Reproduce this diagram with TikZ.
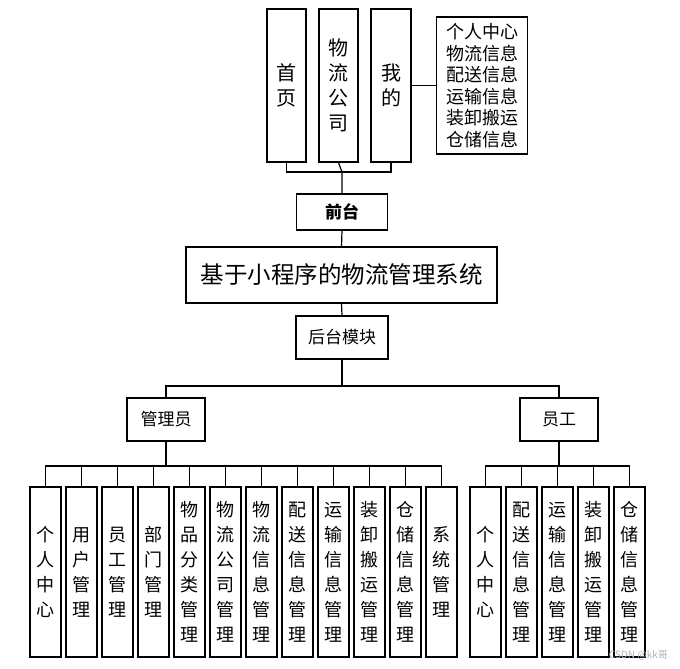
\documentclass[tikz,border=0pt]{standalone}
\usepackage{fontspec}
\newfontfamily\cjk{Noto Sans CJK SC}
\begin{document}
\begin{tikzpicture}[x=1pt,y=-1pt,
  box/.style={draw=black,line width=1.2pt,inner sep=0pt,align=center,font=\cjk},
  topbox/.style={box,minimum width=39pt,minimum height=153pt,font=\cjk\fontsize{20}{25}\selectfont},
  leaf/.style={box,minimum width=31pt,minimum height=170pt,font=\cjk\fontsize{18}{25}\selectfont},
  mid/.style={box,minimum height=43pt,font=\cjk\fontsize{17}{20}\selectfont},
  wire/.style={line width=1.2pt,black}]
\useasboundingbox (0,0) rectangle (680,669);
% top
\node[topbox] (home) at (286.5,85.5) {首\\页};
\node[topbox] (wl) at (338.5,85.5) {物\\流\\公\\司};
\node[topbox,minimum width=40pt] (mine) at (391,85.5) {我\\的};
\node[box,minimum width=91pt,minimum height=137pt,font=\cjk\fontsize{18}{21.5}\selectfont] (list) at (482,85.5) {个人中心\\物流信息\\配送信息\\运输信息\\装卸搬运\\仓储信息};
\node[box,minimum width=91pt,minimum height=36pt,font=\cjk\bfseries\fontsize{17}{20}\selectfont] (front) at (342,212) {前台};
\node[box,minimum width=311pt,minimum height=56pt,font=\cjk\fontsize{23.5}{28}\selectfont] (main) at (341.5,275) {基于小程序的物流管理系统};
\node[mid,minimum width=92pt] (back) at (342,337.5) {后台模块};
\node[mid,minimum width=78pt] (admin) at (166,419.5) {管理员};
\node[mid,minimum width=78pt] (staff) at (559,419.5) {员工};
% admin leaves
\foreach \t [count=\i from 0] in {个\\人\\中\\心,用\\户\\管\\理,员\\工\\管\\理,部\\门\\管\\理,物\\品\\分\\类\\管\\理,物\\流\\公\\司\\管\\理,物\\流\\信\\息\\管\\理,配\\送\\信\\息\\管\\理,运\\输\\信\\息\\管\\理,装\\卸\\搬\\运\\管\\理,仓\\储\\信\\息\\管\\理,系\\统\\管\\理}
  \node[leaf] (a\i) at ({45.5+36*\i},572) {\t};
\foreach \t [count=\i from 0] in {个\\人\\中\\心,配\\送\\信\\息\\管\\理,运\\输\\信\\息\\管\\理,装\\卸\\搬\\运\\管\\理,仓\\储\\信\\息\\管\\理}
  \node[leaf] (s\i) at ({485.5+36*\i},572) {\t};
% connectors top
\coordinate (tb) at (342,172);
\draw[wire] (home.south) -- (home.south |- tb) -- (mine.south |- tb) -- (mine.south);
\draw[wire] (wl.south) -- (tb) -- (front.north);
\draw[wire] (mine.east) -- (list.west);
\draw[wire] (front.south) -- (main.north);
\draw[wire] (main.south) -- (back.north);
\coordinate (mb) at (342,386);
\draw[wire] (back.south) -- (mb);
\draw[wire] (admin.north) -- (admin.north |- mb) -- (staff.north |- mb) -- (staff.north);
\coordinate (lb) at (0,466);
\draw[wire] (admin.south) -- (admin.south |- lb);
\draw[wire] (a0.north) -- (a0.north |- lb) -- (a11.north |- lb) -- (a11.north);
\foreach \i in {1,...,10} \draw[wire] (a\i.north) -- (a\i.north |- lb);
\draw[wire] (staff.south) -- (staff.south |- lb);
\draw[wire] (s0.north) -- (s0.north |- lb) -- (s4.north |- lb) -- (s4.north);
\foreach \i in {1,2,3} \draw[wire] (s\i.north) -- (s\i.north |- lb);
\node[font=\cjk\fontsize{10}{12}\selectfont,text=black!30,anchor=east,inner sep=0pt] (wm) at (668,655) {CSDN @kk哥};
\end{tikzpicture}
\end{document}
